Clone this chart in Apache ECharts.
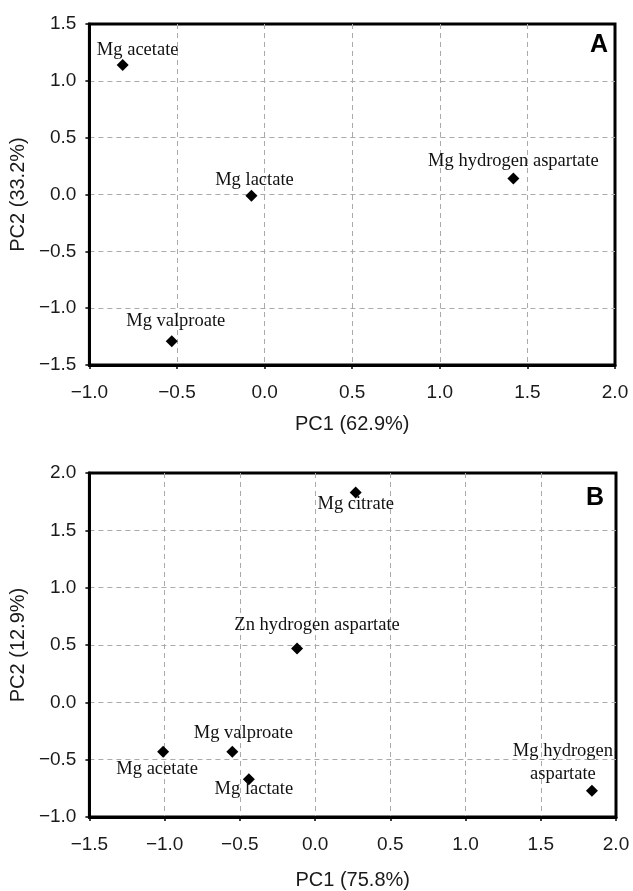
<!DOCTYPE html>
<html><head><meta charset="utf-8">
<script src="https://cdn.jsdelivr.net/npm/echarts@6/dist/echarts.min.js"></script>
<style>html,body{margin:0;padding:0;background:#fff}#c{width:633px;height:891px}</style>
</head><body><div id="c"></div>
<script>
// Panel A data
const namesA = ['Mg acetate', 'Mg lactate', 'Mg hydrogen aspartate', 'Mg valproate'];
const pc1A = [-0.81, -0.075, 1.42, -0.53];
const pc2A = [1.14, -0.01, 0.14, -1.29];
// Panel B data
const namesB = ['Mg citrate', 'Zn hydrogen aspartate', 'Mg valproate', 'Mg acetate', 'Mg lactate', 'Mg hydrogen\naspartate'];
const pc1B = [0.27, -0.12, -0.55, -1.01, -0.44, 1.84];
const pc2B = [1.83, 0.47, -0.43, -0.43, -0.67, -0.77];
// Axis titles
const xTitleA = 'PC1 (62.9%)', yTitleA = 'PC2 (33.2%)';
const xTitleB = 'PC1 (75.8%)', yTitleB = 'PC2 (12.9%)';

// layout: label offsets (pixels) relative to the marker
const offA = [[15, -15], [3, -15], [0, -17], [4, -20]];
const offB = [[0, 12], [20, -23], [11, -18], [-6, 18], [5, 10], [-29, -28]];

const fmt = v => v.toFixed(1).replace('-', '\u2212');
const sans = '"Liberation Sans", Arial, sans-serif';
const serif = '"Liberation Serif", "Times New Roman", serif';

function xAxis(idx, min, max, title, gap) {
  return {
    type: 'value', gridIndex: idx, min: min, max: max, interval: 0.5,
    name: title, nameLocation: 'middle', nameGap: gap,
    nameTextStyle: { fontFamily: sans, fontSize: 20, color: '#1a1a1a' },
    axisLine: { show: true, onZero: false, lineStyle: { color: '#000', width: 3 } },
    axisTick: { show: true, inside: false, length: 4, lineStyle: { color: '#000', width: 1.5 } },
    axisLabel: { formatter: fmt, fontFamily: sans, fontSize: 19, color: '#1a1a1a', margin: 18 },
    splitLine: { show: true, showMinLine: false, showMaxLine: false, lineStyle: { color: '#aaa', type: [5, 4], width: 1 } }
  };
}
function yAxis(idx, min, max, title) {
  return {
    type: 'value', gridIndex: idx, min: min, max: max, interval: 0.5,
    name: title, nameLocation: 'middle', nameGap: 55, nameRotate: 90,
    nameTextStyle: { fontFamily: sans, fontSize: 20, color: '#1a1a1a' },
    axisLine: { show: true, onZero: false, lineStyle: { color: '#000', width: 3 } },
    axisTick: { show: true, inside: false, length: 4, lineStyle: { color: '#000', width: 1.5 } },
    axisLabel: { formatter: fmt, fontFamily: sans, fontSize: 19, color: '#1a1a1a', margin: 13 },
    splitLine: { show: true, showMinLine: false, showMaxLine: false, lineStyle: { color: '#aaa', type: [5, 4], width: 1 } }
  };
}
function seriesData(names, xs, ys, offs) {
  return names.map((n, i) => ({
    name: n, value: [xs[i], ys[i]],
    label: { offset: offs[i] }
  }));
}
function scatter(idx, names, xs, ys, offs) {
  return {
    type: 'scatter', xAxisIndex: idx, yAxisIndex: idx,
    symbol: 'diamond', symbolSize: 12,
    itemStyle: { color: '#000', opacity: 1 },
    label: {
      show: true, position: 'inside', formatter: p => p.name,
      fontFamily: serif, fontSize: 18.5, color: '#111', lineHeight: 23,
      align: 'center', verticalAlign: 'middle'
    },
    emphasis: { disabled: true },
    data: seriesData(names, xs, ys, offs)
  };
}

const chart = echarts.init(document.getElementById('c'), null, { renderer: 'canvas' });
chart.setOption({
  animation: false,
  backgroundColor: '#fff',
  title: [
    { text: 'A', left: 590, top: 33, padding: 0, textStyle: { fontFamily: sans, fontSize: 25, fontWeight: 'bold', color: '#000' } },
    { text: 'B', left: 586, top: 486, padding: 0, textStyle: { fontFamily: sans, fontSize: 25, fontWeight: 'bold', color: '#000' } }
  ],
  grid: [
    { left: 87, top: 24, width: 528, height: 341, show: true, borderColor: '#000', borderWidth: 3, containLabel: false },
    { left: 86, top: 473, width: 530, height: 344, show: true, borderColor: '#000', borderWidth: 3, containLabel: false }
  ],
  xAxis: [xAxis(0, -1, 2, xTitleA, 49), xAxis(1, -1.5, 2, xTitleB, 53)],
  yAxis: [yAxis(0, -1.5, 1.5, yTitleA), yAxis(1, -1, 2, yTitleB)],
  series: [scatter(0, namesA, pc1A, pc2A, offA), scatter(1, namesB, pc1B, pc2B, offB)]
});
</script></body></html>
